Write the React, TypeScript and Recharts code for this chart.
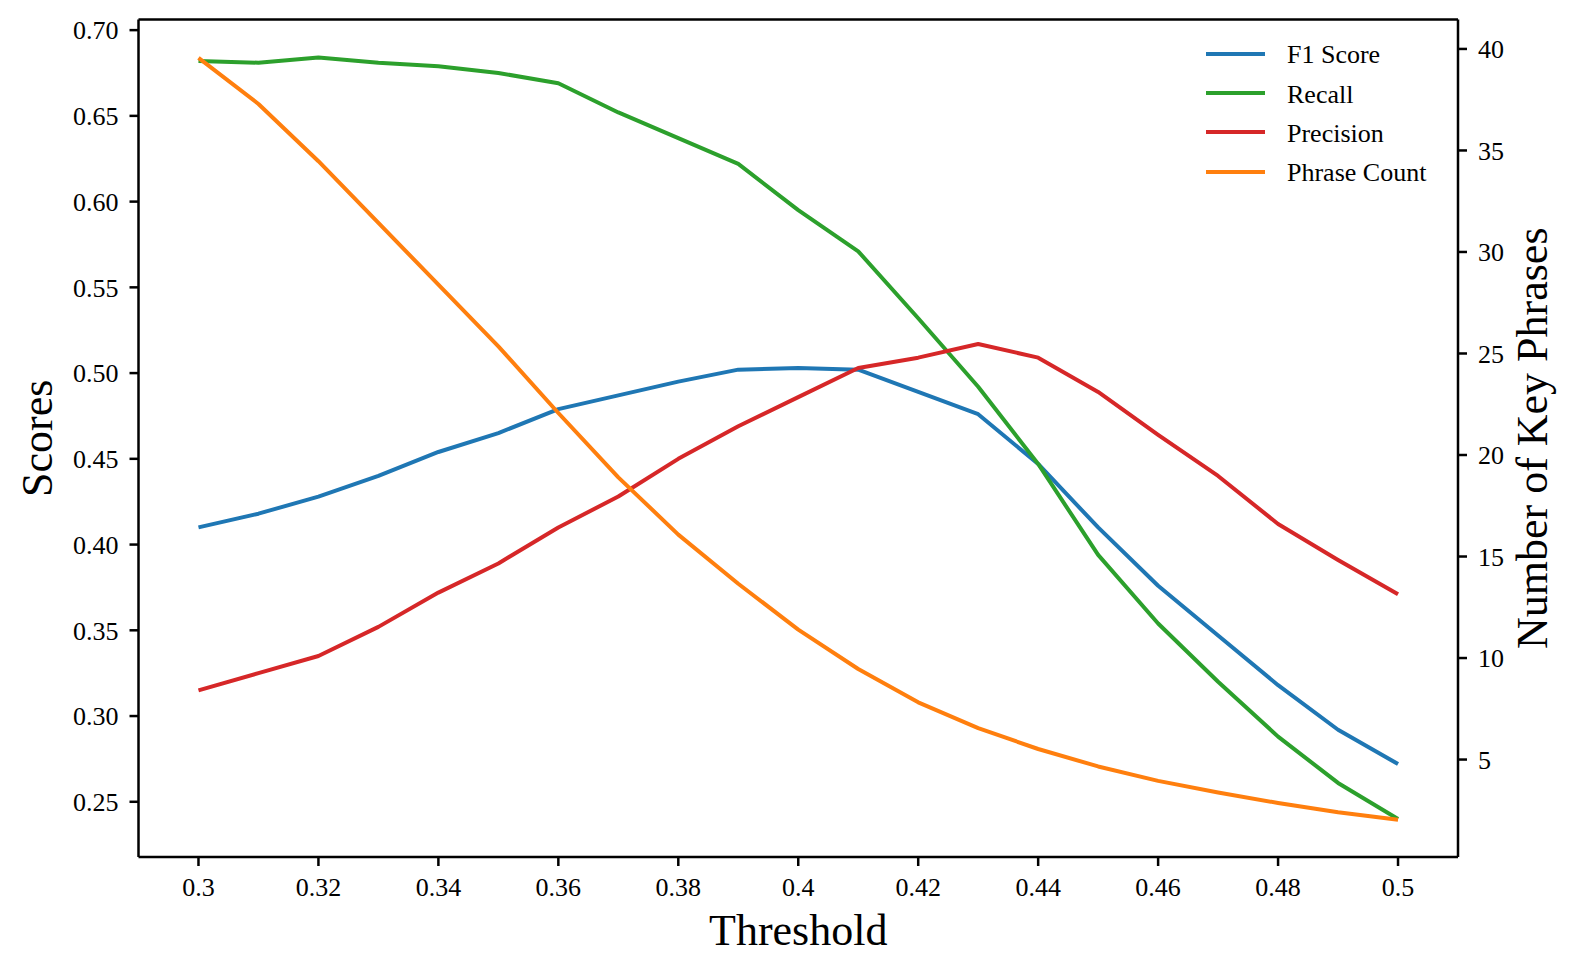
import { LineChart, Line, XAxis, YAxis, Legend, Label, ReferenceLine } from "recharts";

const FONT = '"Liberation Serif", "Times New Roman", serif';

const thresholds = [0.3, 0.31, 0.32, 0.33, 0.34, 0.35, 0.36, 0.37, 0.38, 0.39, 0.4, 0.41, 0.42, 0.43, 0.44, 0.45, 0.46, 0.47, 0.48, 0.49, 0.5];
const f1Scores = [0.410, 0.418, 0.428, 0.440, 0.454, 0.465, 0.479, 0.487, 0.495, 0.502, 0.503, 0.502, 0.489, 0.476, 0.447, 0.410, 0.376, 0.347, 0.318, 0.292, 0.272];
const recall = [0.682, 0.681, 0.684, 0.681, 0.679, 0.675, 0.669, 0.652, 0.637, 0.622, 0.595, 0.571, 0.532, 0.492, 0.447, 0.394, 0.354, 0.320, 0.288, 0.261, 0.240];
const precision = [0.315, 0.325, 0.335, 0.352, 0.372, 0.389, 0.410, 0.428, 0.450, 0.469, 0.486, 0.503, 0.509, 0.517, 0.509, 0.489, 0.464, 0.440, 0.412, 0.391, 0.371];
const phraseCount = [39.56, 37.29, 34.47, 31.43, 28.39, 25.35, 22.07, 18.9, 16.08, 13.66, 11.4, 9.46, 7.82, 6.55, 5.52, 4.66, 3.95, 3.38, 2.86, 2.4, 2.04];

const seriesNames = ["F1 Score", "Recall", "Precision", "Phrase Count"];
const xTicks = [0.3, 0.32, 0.34, 0.36, 0.38, 0.4, 0.42, 0.44, 0.46, 0.48, 0.5];
const scoreTicks = [0.25, 0.3, 0.35, 0.4, 0.45, 0.5, 0.55, 0.6, 0.65, 0.7];
const countTicks = [5, 10, 15, 20, 25, 30, 35, 40];

const data = thresholds.map((t, i) => ({
  threshold: t,
  f1: f1Scores[i],
  recall: recall[i],
  precision: precision[i],
  count: phraseCount[i],
}));

// layout of the plot box, in page pixels
const W = 1578;
const H = 974;
const LEFT = 138.5;
const TOP = 19.5;
const RIGHT = 1458;
const BOTTOM = 857;
const AXIS_W = 100;
const XAXIS_H = 60;
const SCORE_DOMAIN: [number, number] = [0.2178, 0.7062];

const axisLine = { stroke: "#000", strokeWidth: 2.5 };
const tickStyle = { fontFamily: FONT, fontSize: 26, fill: "#000" };

const fmtX = (v: number) => String(parseFloat(v.toFixed(2)));

function LegendBox({ payload }: any) {
  const items = [...(payload || [])].sort(
    (a: any, b: any) => seriesNames.indexOf(a.value) - seriesNames.indexOf(b.value)
  );
  return (
    <div style={{ fontFamily: FONT, fontSize: 26, color: "#000" }}>
      {items.map((entry: any) => (
        <div key={entry.value} style={{ display: "flex", alignItems: "center", height: 39.2 }}>
          <span style={{ display: "inline-block", width: 59, height: 4, background: entry.color, marginRight: 22 }} />
          <span style={{ paddingTop: 3, whiteSpace: "nowrap" }}>{entry.value}</span>
        </div>
      ))}
    </div>
  );
}

const labelText = { fontFamily: FONT, fontSize: 44, fill: "#000" };

export default function App() {
  const midY = (TOP + BOTTOM) / 2;
  return (
    <div style={{ position: "absolute", left: 0, top: 0, width: W, height: H, background: "#fff" }}>
      <LineChart
        width={W}
        height={H}
        data={data}
        margin={{ top: TOP, right: W - RIGHT - AXIS_W, bottom: H - BOTTOM - XAXIS_H, left: LEFT - AXIS_W }}
      >
        <XAxis
          dataKey="threshold"
          type="number"
          domain={[0.29, 0.51]}
          allowDataOverflow
          ticks={xTicks}
          tickFormatter={fmtX}
          tick={tickStyle}
          tickSize={9}
          tickMargin={12}
          axisLine={axisLine}
          tickLine={axisLine}
          height={XAXIS_H}
        >
          <Label
            value="Threshold"
            content={() => (
              <text x={(LEFT + RIGHT) / 2} y={945} textAnchor="middle" style={labelText}>
                Threshold
              </text>
            )}
          />
        </XAxis>
        <YAxis
          yAxisId="left"
          domain={SCORE_DOMAIN}
          allowDataOverflow
          ticks={scoreTicks}
          tickFormatter={(v: number) => v.toFixed(2)}
          tick={tickStyle}
          tickSize={9}
          tickMargin={11}
          axisLine={axisLine}
          tickLine={axisLine}
          width={AXIS_W}
        >
          <Label
            value="Scores"
            content={() => (
              <text x={52} y={midY} transform={`rotate(-90 52 ${midY})`} textAnchor="middle" style={labelText}>
                Scores
              </text>
            )}
          />
        </YAxis>
        <YAxis
          yAxisId="right"
          orientation="right"
          domain={[0.2, 41.45]}
          allowDataOverflow
          ticks={countTicks}
          tick={tickStyle}
          tickSize={9}
          tickMargin={11}
          axisLine={axisLine}
          tickLine={axisLine}
          width={AXIS_W}
        >
          <Label
            value="Number of Key Phrases"
            content={() => (
              <text x={1547} y={midY} transform={`rotate(-90 1547 ${midY})`} textAnchor="middle" style={labelText}>
                Number of Key Phrases
              </text>
            )}
          />
        </YAxis>
        {/* top spine of the frame */}
        <ReferenceLine yAxisId="left" y={SCORE_DOMAIN[1]} stroke="#000" strokeWidth={2.5} ifOverflow="visible" />
        <Legend
          layout="vertical"
          align="center"
          verticalAlign="middle"
          wrapperStyle={{ left: 1206, top: 34.4, width: 260, height: 160 }}
          content={<LegendBox />}
        />
        <Line yAxisId="left" dataKey="f1" name="F1 Score" stroke="#1f77b4" strokeWidth={4} strokeLinejoin="round" dot={false} activeDot={false} isAnimationActive={false} />
        <Line yAxisId="left" dataKey="recall" name="Recall" stroke="#2ca02c" strokeWidth={4} strokeLinejoin="round" dot={false} activeDot={false} isAnimationActive={false} />
        <Line yAxisId="left" dataKey="precision" name="Precision" stroke="#d62728" strokeWidth={4} strokeLinejoin="round" dot={false} activeDot={false} isAnimationActive={false} />
        <Line yAxisId="right" dataKey="count" name="Phrase Count" stroke="#ff7f0e" strokeWidth={4} strokeLinejoin="round" dot={false} activeDot={false} isAnimationActive={false} />
      </LineChart>
    </div>
  );
}
